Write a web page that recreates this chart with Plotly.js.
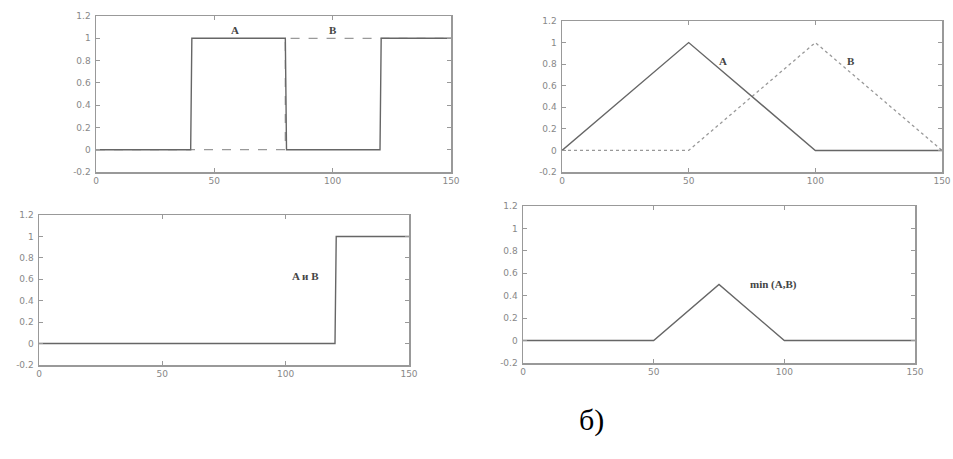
<!DOCTYPE html>
<html><head><meta charset="utf-8">
<script src="https://cdn.plot.ly/plotly-3.0.1.min.js"></script>
<style>html,body{margin:0;padding:0;background:#fff}#c{width:953px;height:459px}</style>
</head><body><div id="c"></div>
<script>
// Plot 1 (crisp sets)
const p1_x_A = [0, 40, 40.5, 80, 80.5, 120, 120.5, 150];
const p1_y_A = [0, 0, 1, 1, 0, 0, 1, 1];
const p1_x_B = [0, 80, 80, 150];
const p1_y_B = [0, 0, 1, 1];
// Plot 2 (fuzzy sets)
const p2_x_A = [0, 50, 100, 150];
const p2_y_A = [0, 1, 0, 0];
const p2_x_B = [0, 50, 100, 150];
const p2_y_B = [0, 0, 1, 0];
// Plot 3 (A и B crisp)
const p3_x = [0, 120, 120.5, 150];
const p3_y = [0, 0, 1, 1];
// Plot 4 min(A,B)
const p4_x = [0, 50, 75, 100, 150];
const p4_y = [0, 0, 0.5, 0, 0];

const xTicks = [0, 50, 100, 150];
const yTicks = [-0.2, 0, 0.2, 0.4, 0.6, 0.8, 1, 1.2];
const labels = ["A", "B", "A", "B", "A и B", "min (A,B)"];
const caption = "б)";

const solid = {color:'#666', width:1.4};
const dashed = {color:'#999', width:1.3, dash:'dash'};

const traces = [
  {x:p1_x_B, y:p1_y_B, xaxis:'x', yaxis:'y', mode:'lines', line:dashed},
  {x:p1_x_A, y:p1_y_A, xaxis:'x', yaxis:'y', mode:'lines', line:solid},
  {x:p2_x_B, y:p2_y_B, xaxis:'x2', yaxis:'y2', mode:'lines', line:{color:'#999', width:1.3, dash:'dot'}},
  {x:p2_x_A, y:p2_y_A, xaxis:'x2', yaxis:'y2', mode:'lines', line:solid},
  {x:p3_x, y:p3_y, xaxis:'x3', yaxis:'y3', mode:'lines', line:solid},
  {x:p4_x, y:p4_y, xaxis:'x4', yaxis:'y4', mode:'lines', line:solid}
];

function ax(dom, anchor, isX){
  return {domain:dom, anchor:anchor, range: isX ? [0,150] : [-0.2,1.2],
    tickvals: isX ? xTicks : yTicks, ticktext: (isX ? xTicks : yTicks).map(v=>String(v)),
    ticks:'inside', ticklen:4, tickcolor:'#999', mirror:'ticks', showline:true, linecolor:'#999', linewidth:1.5,
    showgrid:false, zeroline:false, fixedrange:true, ticklabelstandoff: isX ? 0 : 2,
    tickfont:{family:'DejaVu Sans', size:9, color:'#888'}};
}
const W=953,H=459;
const px = v=>v/W, py = v=>1-v/H;
const lf = {family:'Liberation Serif', size:11, color:'#444'};

const layout = {
  width:W, height:H, margin:{l:0,r:0,t:0,b:0}, showlegend:false,
  paper_bgcolor:'#fff', plot_bgcolor:'#fff',
  xaxis: ax([px(96),px(451)],'y',true),
  yaxis: ax([py(172),py(16)],'x',false),
  xaxis2: ax([px(562),px(942)],'y2',true),
  yaxis2: ax([py(172),py(21)],'x2',false),
  xaxis3: ax([px(39),px(409)],'y3',true),
  yaxis3: ax([py(365),py(215)],'x3',false),
  xaxis4: ax([px(523),px(915)],'y4',true),
  yaxis4: ax([py(363),py(206)],'x4',false),
  annotations: [
    {xref:'x', yref:'y', x:58.7, y:1.07, text:'<b>'+labels[0]+'</b>', showarrow:false, font:lf},
    {xref:'x', yref:'y', x:100, y:1.07, text:'<b>'+labels[1]+'</b>', showarrow:false, font:lf},
    {xref:'x2', yref:'y2', x:63.6, y:0.83, text:'<b>'+labels[2]+'</b>', showarrow:false, font:lf},
    {xref:'x2', yref:'y2', x:114, y:0.83, text:'<b>'+labels[3]+'</b>', showarrow:false, font:lf},
    {xref:'x3', yref:'y3', x:108.2, y:0.63, text:'<b>'+labels[4]+'</b>', showarrow:false, font:lf},
    {xref:'x4', yref:'y4', x:95.7, y:0.5, text:'<b>'+labels[5]+'</b>', showarrow:false, font:lf},
    {xref:'paper', yref:'paper', x:px(591), y:py(439), text:caption, showarrow:false, font:{family:'Liberation Serif', size:30, color:'#000'}}
  ]
};
Plotly.newPlot('c', traces, layout, {displayModeBar:false, staticPlot:true});
</script></body></html>
